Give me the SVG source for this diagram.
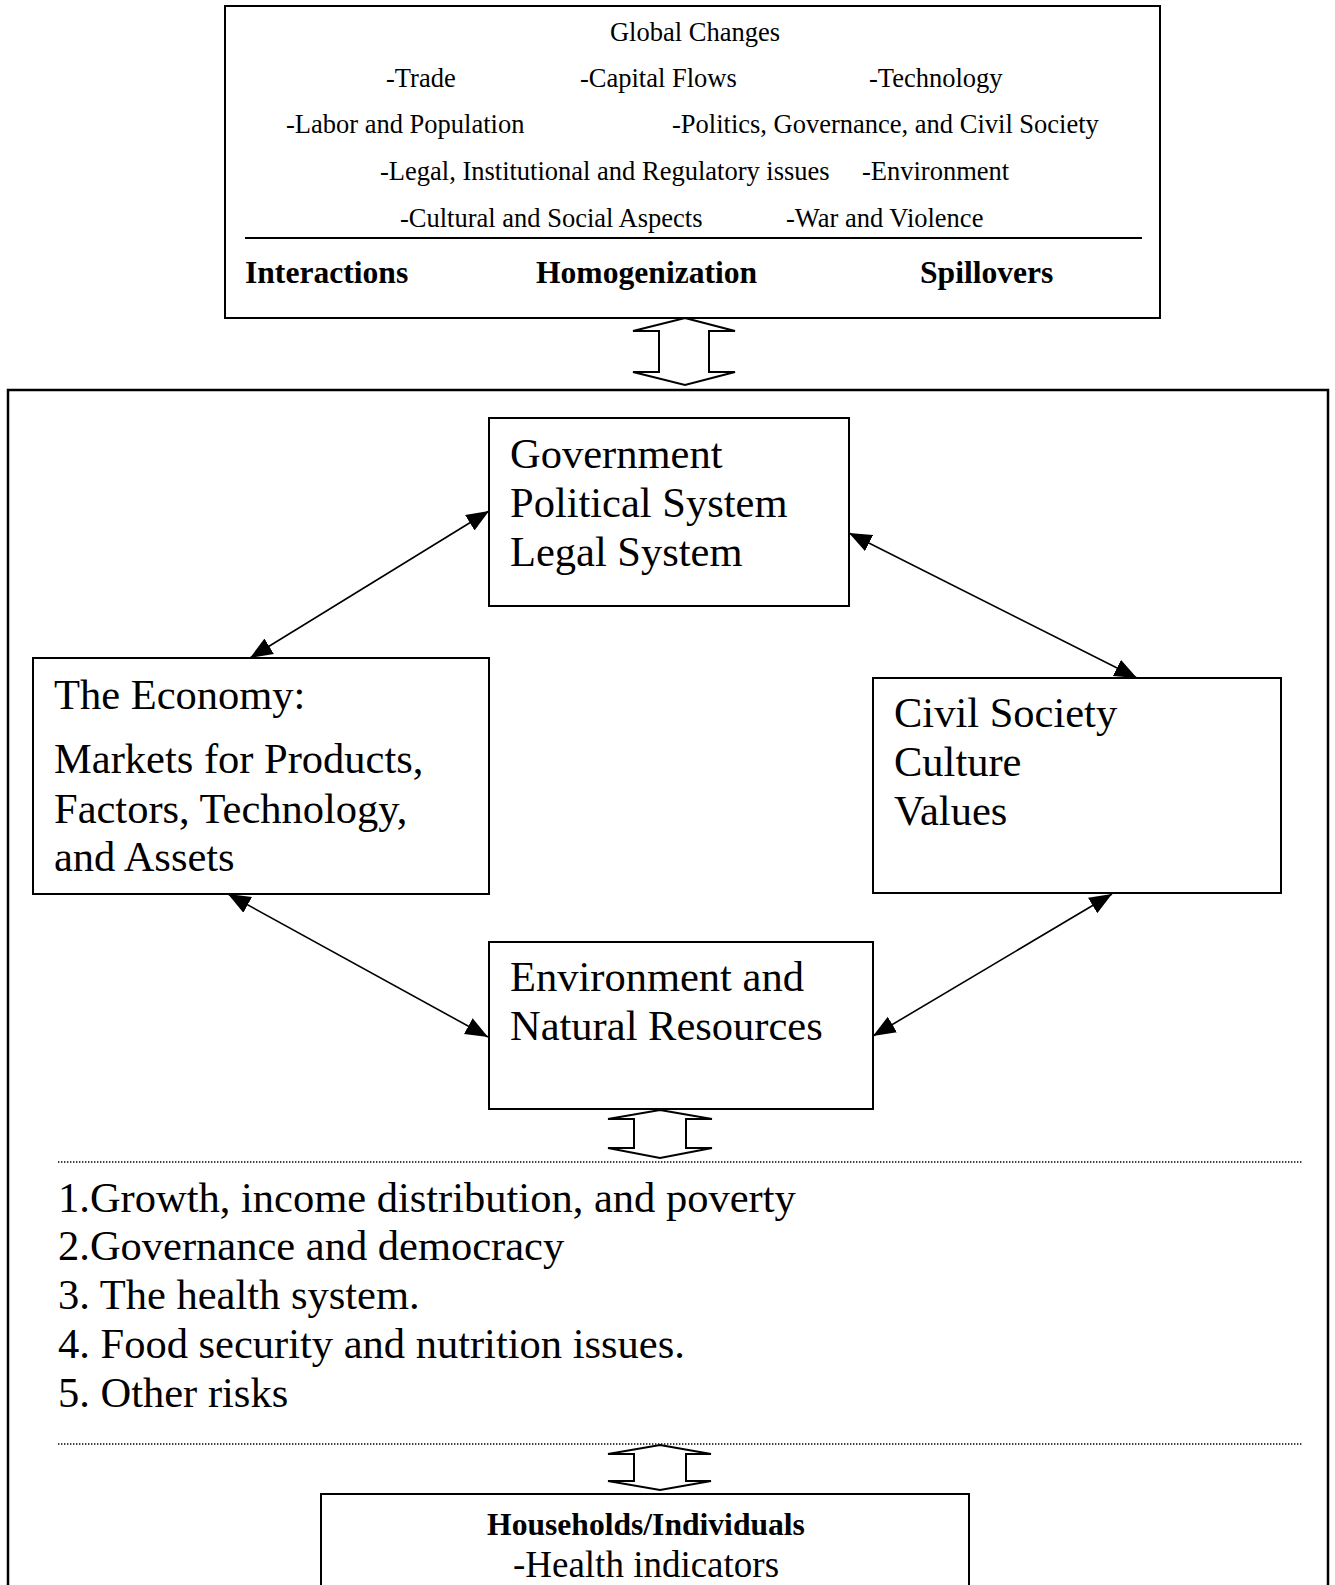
<svg xmlns="http://www.w3.org/2000/svg" width="1335" height="1585" viewBox="0 0 1335 1585">
<style>
.box{fill:#fff;stroke:#000;stroke-width:2}
.t{font-family:"Liberation Serif","Times New Roman",serif;fill:#000}
.s{font-size:26.5px}
.b{font-size:31.6px;font-weight:bold}
.L{font-size:42.5px}
.con{stroke:#000;stroke-width:1.6;fill:none;marker-start:url(#ah);marker-end:url(#ah)}
.dbl{fill:#fff;stroke:#000;stroke-width:2;stroke-linejoin:miter}
.dot{stroke:#000;stroke-width:1.4;stroke-dasharray:1.4 1.6}
</style>
<defs>
<marker id="ah" markerUnits="userSpaceOnUse" markerWidth="23" markerHeight="19" viewBox="0 0 23 19" refX="22.5" refY="9.5" orient="auto-start-reverse">
<path d="M0,0.5 L22.5,9.5 L0,18.5 Z" fill="#000"/>
</marker>
</defs>
<rect width="1335" height="1585" fill="#fff"/>

<g id="global-changes">
<rect class="box" x="225" y="6" width="935" height="312"/>
<text class="t s" x="695" y="41" text-anchor="middle">Global Changes</text>
<text class="t s" x="386" y="87">-Trade</text>
<text class="t s" x="580" y="87">-Capital Flows</text>
<text class="t s" x="869" y="87">-Technology</text>
<text class="t s" x="286" y="133">-Labor and Population</text>
<text class="t s" x="672" y="133">-Politics, Governance, and Civil Society</text>
<text class="t s" x="380" y="180">-Legal, Institutional and Regulatory issues</text>
<text class="t s" x="862" y="180">-Environment</text>
<text class="t s" x="400" y="227">-Cultural and Social Aspects</text>
<text class="t s" x="786" y="227">-War and Violence</text>
<line x1="245" y1="238" x2="1142" y2="238" stroke="#000" stroke-width="2"/>
<text class="t b" x="245" y="283">Interactions</text>
<text class="t b" x="536" y="283">Homogenization</text>
<text class="t b" x="920" y="283">Spillovers</text>
</g>

<g id="country-system">
<rect x="8" y="390" width="1320" height="1230" fill="none" stroke="#000" stroke-width="2.5"/>
</g>

<g id="government">
<rect class="box" x="489" y="418" width="360" height="188"/>
<text class="t L" x="510" y="468">Government</text>
<text class="t L" x="510" y="517">Political System</text>
<text class="t L" x="510" y="566">Legal System</text>
</g>

<g id="economy">
<rect class="box" x="33" y="658" width="456" height="236"/>
<text class="t L" x="54" y="709">The Economy:</text>
<text class="t L" x="54" y="773">Markets for Products,</text>
<text class="t L" x="54" y="823">Factors, Technology,</text>
<text class="t L" x="54" y="871">and Assets</text>
</g>

<g id="civil-society">
<rect class="box" x="873" y="678" width="408" height="215"/>
<text class="t L" x="894" y="727">Civil Society</text>
<text class="t L" x="894" y="776">Culture</text>
<text class="t L" x="894" y="825">Values</text>
</g>

<g id="environment">
<rect class="box" x="489" y="942" width="384" height="167"/>
<text class="t L" x="510" y="991">Environment and</text>
<text class="t L" x="510" y="1040">Natural Resources</text>
</g>

<g id="outcomes">
<line class="dot" x1="58" y1="1162" x2="1303" y2="1162"/>
<text class="t L" x="58" y="1212">1.Growth, income distribution, and poverty</text>
<text class="t L" x="58" y="1260">2.Governance and democracy</text>
<text class="t L" x="58" y="1309">3. The health system.</text>
<text class="t L" x="58" y="1358">4. Food security and nutrition issues.</text>
<text class="t L" x="58" y="1407">5. Other risks</text>
<line class="dot" x1="58" y1="1444" x2="1303" y2="1444"/>
</g>

<g id="households">
<rect class="box" x="321" y="1494" width="648" height="120"/>
<text class="t b" x="646" y="1535" text-anchor="middle">Households/Individuals</text>
<text class="t" x="646" y="1577" text-anchor="middle" font-size="37">-Health indicators</text>
</g>

<g id="connectors">
<line class="con" x1="250" y1="658" x2="489" y2="511"/>
<line class="con" x1="849" y1="533" x2="1137" y2="678"/>
<line class="con" x1="228" y1="894" x2="488" y2="1037"/>
<line class="con" x1="1112" y1="894" x2="873" y2="1036"/>
<polygon class="dbl" points="685,318 735,331 709,331 709,372 735,372 685,385 633,372 659,372 659,331 633,331"/>
<polygon class="dbl" points="660,1110 712,1119 686,1119 686,1148 712,1148 660,1158 608,1148 634,1148 634,1119 608,1119"/>
<polygon class="dbl" points="660,1445 711,1454 686,1454 686,1481 711,1481 660,1490 608,1481 634,1481 634,1454 608,1454"/>
</g>
</svg>
